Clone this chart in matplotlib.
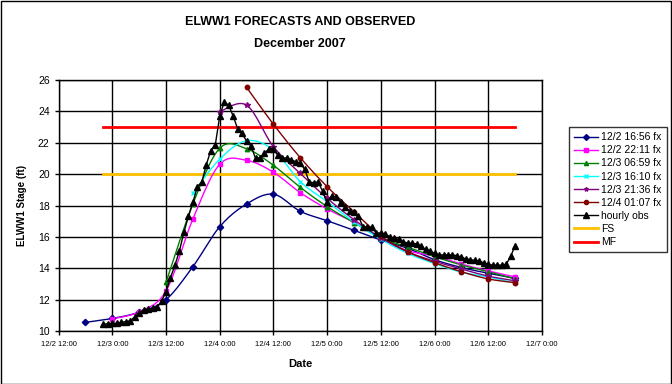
import numpy as np
import pandas as pd
import matplotlib
matplotlib.use("Agg")
import matplotlib.pyplot as plt
import matplotlib.dates as mdates
from matplotlib.patches import Rectangle

plt.rcParams['font.family'] = ['Liberation Sans', 'DejaVu Sans']

# forecast series, 6-hourly values
fx_labels = ["12/2 16:56 fx", "12/2 22:11 fx", "12/3 06:59 fx",
             "12/3 16:10 fx", "12/3 21:36 fx", "12/4 01:07 fx"]
fx_start = ["2007-12-02 18:00", "2007-12-03 00:00", "2007-12-03 12:00",
            "2007-12-03 18:00", "2007-12-04 00:00", "2007-12-04 06:00"]
fx_1656 = [10.55, 10.8, 11.2, 12.0, 14.1, 16.65, 18.1, 18.72, 17.63, 17.03,
           16.42, 15.8, 15.27, 14.55, 14.05, 13.68, 13.36]
fx_2211 = [10.77, 11.23, 12.55, 17.14, 20.63, 20.88, 20.12, 18.82, 17.78,
           16.93, 15.91, 15.12, 14.78, 14.27, 13.83, 13.45]
fx_0659 = [13.1, 18.1, 21.65, 21.62, 20.56, 19.16, 17.93, 16.91, 15.95,
           15.34, 14.74, 14.21, 13.78, 13.32]
fx_1610 = [18.78, 20.96, 22.13, 21.54, 19.52, 18.25, 16.95, 15.85, 14.95,
           14.3, 13.75, 13.45, 13.05]
fx_2136 = [23.98, 24.4, 21.75, 20.05, 18.46, 17.1, 15.95, 15.05, 14.45,
           13.95, 13.5, 13.2]
fx_0107 = [25.53, 23.18, 21.05, 19.2, 17.6, 16.06, 15.05, 14.36, 13.78,
           13.32, 13.08]
fx_values = [fx_1656, fx_2211, fx_0659, fx_1610, fx_2136, fx_0107]
fx_colors = ["#000080", "#FF00FF", "#008000", "#00FFFF", "#800080", "#800000"]
fx_markers = ["D", "s", "^", "x", "*", "o"]

# hourly observations from 12/2 22:00
obs_start = "2007-12-02 22:00"
obs = [10.45, 10.45, 10.5, 10.5, 10.55, 10.6, 10.65, 10.9, 11.15, 11.35,
       11.4, 11.45, 11.5, 11.9, 12.5, 13.4, 14.2, 15.1, 16.3, 17.3,
       18.2, 19.2, 19.5, 20.6, 21.5, 21.85, 23.7, 24.6, 24.4, 23.7,
       22.9, 22.6, 22.1, 21.8, 21.0, 21.05, 21.35, 21.6, 21.6, 21.2,
       21.0, 21.05, 20.9, 20.8, 20.7, 20.3, 19.5, 19.45, 19.5, 18.9,
       18.2, 18.6, 18.55, 18.2, 17.9, 17.65, 17.6, 17.3, 16.65, 16.65,
       16.6, 16.25, 16.25, 16.2, 16.0, 15.9, 15.85, 15.7, 15.6, 15.6,
       15.55, 15.4, 15.2, 15.1, 14.95, 14.85, 14.85, 14.85, 14.85, 14.8,
       14.7, 14.6, 14.55, 14.5, 14.45, 14.35, 14.25, 14.2, 14.2, 14.2,
       14.25, 14.75, 15.45]

fs_stage = 20.0
mf_stage = 23.0


def smooth(x, y, n=12):
    # Catmull-Rom style curve like Excel's smoothed line
    x = np.asarray(x, float)
    y = np.asarray(y, float)
    px = np.concatenate([[x[0]], x, [x[-1]]])
    py = np.concatenate([[y[0]], y, [y[-1]]])
    xs, ys = [], []
    t = np.linspace(0, 1, n, endpoint=False)
    for i in range(1, len(px) - 2):
        mx0 = (px[i + 1] - px[i - 1]) / 2
        mx1 = (px[i + 2] - px[i]) / 2
        my0 = (py[i + 1] - py[i - 1]) / 2
        my1 = (py[i + 2] - py[i]) / 2
        h00 = 2 * t**3 - 3 * t**2 + 1
        h10 = t**3 - 2 * t**2 + t
        h01 = -2 * t**3 + 3 * t**2
        h11 = t**3 - t**2
        xs.append(h00 * px[i] + h10 * mx0 + h01 * px[i + 1] + h11 * mx1)
        ys.append(h00 * py[i] + h10 * my0 + h01 * py[i + 1] + h11 * my1)
    xs.append([x[-1]])
    ys.append([y[-1]])
    return np.concatenate(xs), np.concatenate(ys)


fig = plt.figure(figsize=(6.72, 3.84), dpi=100)
ax = fig.add_axes([0.0872, 0.138, 0.7193, 0.6536])

handles = []
for lab, st, vals, col, mk in zip(fx_labels, fx_start, fx_values, fx_colors, fx_markers):
    t = pd.date_range(st, periods=len(vals), freq="6h")
    xn = mdates.date2num(t)
    sx, sy = smooth(xn, vals)
    ax.plot(sx, sy, color=col, lw=1, zorder=3)
    ax.plot(xn, vals, ls="none", marker=mk, color=col, ms=3.2 if mk != "*" else 4.2,
            mew=1, zorder=4)
    h, = ax.plot([], [], color=col, lw=1, marker=mk, ms=3, label=lab)
    handles.append(h)

t_obs = pd.date_range(obs_start, periods=len(obs), freq="h")
h_obs, = ax.plot(t_obs, obs, color="black", lw=1, marker="^", ms=3.8,
                 zorder=5, label="hourly obs")
handles.append(h_obs)

h_fs, = ax.plot([t_obs[0], t_obs[-1]], [fs_stage, fs_stage], color="#FFC000",
                lw=2, zorder=2, label="FS")
h_mf, = ax.plot([t_obs[0], t_obs[-1]], [mf_stage, mf_stage], color="#FF0000",
                lw=2, zorder=2, label="MF")
handles += [h_fs, h_mf]

ax.set_xlim(pd.Timestamp("2007-12-02 12:00"), pd.Timestamp("2007-12-07 00:00"))
ax.set_ylim(10, 26)
ax.set_yticks(np.arange(10, 27, 2))
ticks = pd.date_range("2007-12-02 12:00", "2007-12-07 00:00", freq="12h")
ax.set_xticks(ticks)
ax.set_xticklabels([f"{d.month}/{d.day} {d.hour}:00" for d in ticks], fontsize=5.5)
ax.tick_params(axis="y", labelsize=7.5, length=3, width=1, colors="black")
ax.tick_params(axis="x", length=3, width=1, pad=4)
ax.grid(True, color="black", lw=1)
ax.set_axisbelow(True)
for s in ax.spines.values():
    s.set_color("black")
    s.set_linewidth(1)

ax.set_xlabel("Date", fontsize=8, fontweight="bold", labelpad=8)
ax.set_ylabel("ELWW1 Stage (ft)", fontsize=7, fontweight="bold", labelpad=8)

fig.text(300 / 672, 1 - 22 / 384, "ELWW1 FORECASTS AND OBSERVED", ha="center",
         va="center", fontsize=9, fontweight="bold")
fig.text(300 / 672, 1 - 44 / 384, "December 2007", ha="center", va="center",
         fontsize=9, fontweight="bold")

leg = fig.legend(handles=handles, loc="upper left",
                 bbox_to_anchor=(569 / 672, 1 - 127 / 384), fontsize=7.5,
                 frameon=True, fancybox=False, labelspacing=0.3,
                 handlelength=2.3, handletextpad=0.3, borderpad=0.5,
                 borderaxespad=0)
leg.get_frame().set_edgecolor("black")
leg.get_frame().set_linewidth(1)

fig.patches.append(Rectangle((0.001, 0.001), 0.997, 0.997, transform=fig.transFigure,
                             fill=False, edgecolor="black", lw=1))

fig.savefig("out.png", dpi=100)
